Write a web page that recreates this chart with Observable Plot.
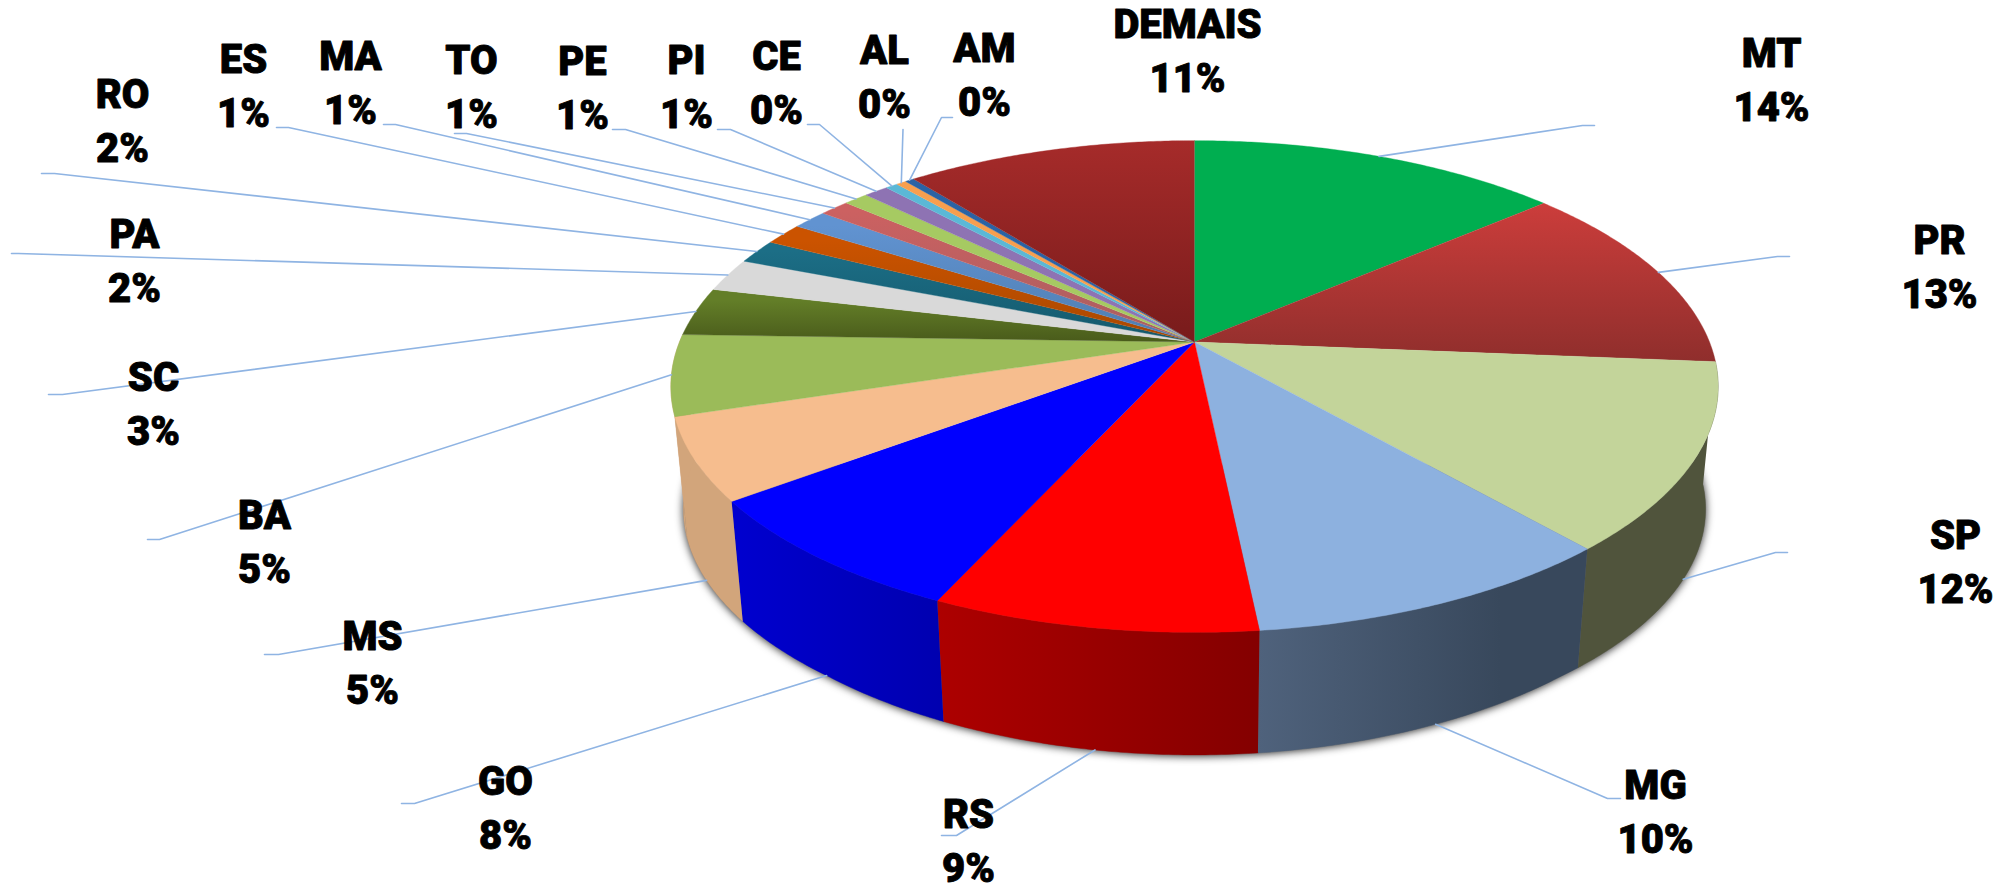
<!DOCTYPE html>
<html>
<head>
<meta charset="utf-8">
<script src="https://cdn.jsdelivr.net/npm/d3@7"></script>
<script src="https://cdn.jsdelivr.net/npm/@observablehq/plot@0.6"></script>
<style>
html,body{margin:0;padding:0;background:#fff;}
svg{display:block;}
</style>
</head>
<body>
<div id="chart"></div>
<script>
// ---- chart values ----
const states = ["MT","PR","SP","MG","RS","GO","MS","BA","SC","PA","RO","ES","MA","TO","PE","PI","CE","AL","AM","DEMAIS"];
const shares = [13.7,12.6,12.25,9.8,8.5,7.95,5.4,5.3,3.2,2.2,1.6,1.45,1.3,1.1,0.9,0.9,0.45,0.37,0.33,10.7];
const shareLabels = ["14%","13%","12%","10%","9%","8%","5%","5%","3%","2%","2%","1%","1%","1%","1%","1%","0%","0%","0%","11%"];

// ---- styles ----
const topColors = ["#00AE50","url(#g1)","#C3D49A","#8DB1DF","#FF0000","#0000FF","#F6BD8E","#9BBB59","url(#g8)","#D9D9D9",
  "url(#g10)","url(#g11)","url(#g12)","url(#g13)","#A6CA62","#8E73B3","#5BB8D6","#F79F4F","#2A63A5","url(#g19)"];
const sideColors = [null,null,"#50543C","url(#s3)","url(#s4)","url(#s5)","#D2A57B","#D2A57B",null,null,
  null,null,null,null,null,null,null,null,null,null];
const verticalGradients = [
  ["g1","#CB3D3B","#8F2E2C",205,362],["g8","#637E28","#4A5C1B",300,340],["g10","#1C6E86","#14596C",250,341],["g11","#CB5300","#A84800",240,341],
  ["g12","#6193D1","#4E7DB0",225,341],["g13","#CC6161","#A85E60",210,341],["g19","#A62B2A","#781B1B",140,341]];
const sideGradients = [
  ["s3","#4F627C","#38485C",1258,1500],["s4","#AD0000","#840000",937,1258],["s5","#0000CE","#0000B0",740,940]];
const leaderColor = "#8FB4E3";

// ---- label layout (pixels) ----
const labelX = [1771,1939,1955,1655,968,505,372,264,153,134,122,243,350,471,582,686,776,884,984,1187];
const labelY = [76,263,558,808,837,804,659,538,400,257,117,82,79,83,84,83,79,73,71,47];
const elbowX = [1582,1777,1775,1607,956,414,278,159,62,18,54,288,395,466,625,730,819,902.5,941,null];
const elbowY = [125,256,552,798,835,803,654,539,394,253,173,127,124,133,129,129,124,129,117,null];
const endX   = [1594,1789,1787,1620,941,401,264,147,48,11,41,276,383,454,612,717,807,902.5,952,null];

// ---- pie geometry: a tilted disc seen in perspective ----
const cx = 1194, cy = 341.5, rx = 515, ry = 237.8, persp = 0.181;
const depth = 123.6, bottomScale = 0.976, frontBulge = 0.08, frontStart = 216;
const rad = Math.PI / 180;
function rim(deg, bottom) {
  const s = Math.sin(deg * rad), c = Math.cos(deg * rad), w = 1 + persp * c;
  const k = bottom ? bottomScale : 1;
  const dy = -ry * c / w;
  const extra = bottom ? frontBulge * Math.max(0, dy - frontStart) : 0;
  return {x: cx + k * rx * s / w, y: cy + (bottom ? depth : 0) + k * dy + extra};
}
const total = d3.sum(shares);
let acc = 0;
const slices = states.map((state, i) => {
  const a0 = acc / total * 360; acc += shares[i]; const a1 = acc / total * 360;
  return {state, i, a0, a1, mid: (a0 + a1) / 2};
});
function arc(a0, a1, bottom) {
  const n = Math.max(2, Math.ceil((a1 - a0) / 0.5));
  return d3.range(n + 1).map(j => rim(a0 + (a1 - a0) * j / n, bottom));
}
const topPts = slices.flatMap(s =>
  [{x: cx, y: cy}, ...arc(s.a0, s.a1, false)].map(p => ({...p, key: s.state, color: topColors[s.i]})));
const sidePts = slices.filter(s => sideColors[s.i]).flatMap(s => {
  const a0 = Math.max(s.a0, 90), a1 = Math.min(s.a1, 275);
  return [...arc(a0, a1, false), ...arc(a0, a1, true).reverse()].map(p => ({...p, key: s.state, color: sideColors[s.i]}));
});
const basePts = arc(90, 270, true).map(p => ({...p, key: "base"}));
const leaderPts = slices.filter(s => elbowX[s.i] != null).flatMap(s => {
  const front = s.mid > 95 && s.mid < 260;
  const a = rim(s.mid, front);
  return [a, {x: elbowX[s.i], y: elbowY[s.i]}, {x: endX[s.i], y: elbowY[s.i]}].map(p => ({...p, key: s.state}));
});
const labels = slices.map(s => ({x: labelX[s.i], y: labelY[s.i], text: `${s.state}\n${shareLabels[s.i]}`}));

function defs() {
  const d = d3.create("svg:defs");
  for (const [id, c0, c1, y0, y1] of verticalGradients) {
    const g = d.append("linearGradient").attr("id", id).attr("gradientUnits", "userSpaceOnUse")
      .attr("x1", 0).attr("x2", 0).attr("y1", y0).attr("y2", y1);
    g.append("stop").attr("offset", 0).attr("stop-color", c0);
    g.append("stop").attr("offset", 1).attr("stop-color", c1);
  }
  for (const [id, c0, c1, x0, x1] of sideGradients) {
    const g = d.append("linearGradient").attr("id", id).attr("gradientUnits", "userSpaceOnUse")
      .attr("x1", x0).attr("x2", x1).attr("y1", 0).attr("y2", 0);
    g.append("stop").attr("offset", 0).attr("stop-color", c0);
    g.append("stop").attr("offset", 1).attr("stop-color", c1);
  }
  return d.node();
}

const chart = Plot.plot({
  width: 1998, height: 889, margin: 0,
  x: {domain: [0, 1998], range: [0, 1998], axis: null},
  y: {domain: [0, 889], range: [0, 889], axis: null},
  color: {type: "identity"},
  style: {background: "#fff", overflow: "hidden"},
  marks: [
    defs,
    Plot.line(basePts, {x: "x", y: "y", z: "key", fill: "#777", stroke: "none", imageFilter: "drop-shadow(0 1px 4px rgba(0,0,0,.85))"}),
    Plot.line(sidePts, {x: "x", y: "y", z: "key", fill: "color", stroke: "color", strokeWidth: 0.4}),
    Plot.line(topPts, {x: "x", y: "y", z: "key", fill: "color", stroke: "color", strokeWidth: 0.4}),
    Plot.line(leaderPts, {x: "x", y: "y", z: "key", stroke: leaderColor, strokeWidth: 1.6}),
    Plot.text(labels, {x: "x", y: "y", text: "text", fontFamily: "Roboto", fontWeight: 900, fontSize: 40, lineHeight: 1.35, fill: "#000", stroke: "#000", strokeWidth: 0.9, textAnchor: "middle", lineAnchor: "middle"})
  ]
});
document.getElementById("chart").append(chart);
</script>
</body>
</html>
